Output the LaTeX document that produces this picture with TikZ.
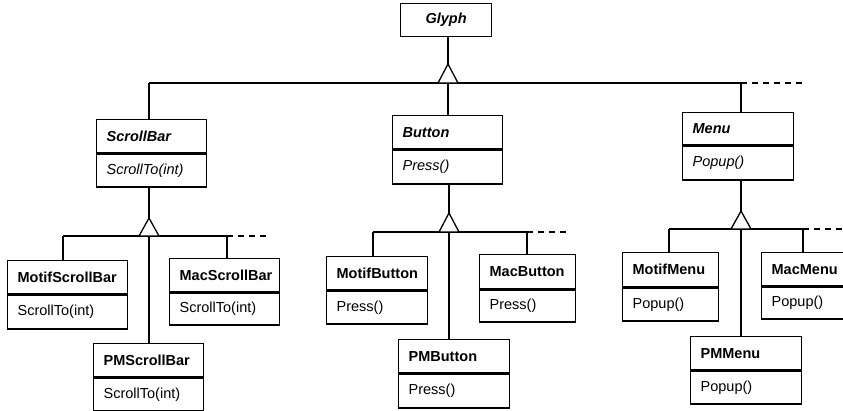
\documentclass[tikz,border=0pt]{standalone}
\usepackage{fontspec}
\setmainfont{Liberation Sans}
\begin{document}
\begin{tikzpicture}[x=1pt,y=-1pt,
  cls/.style={draw, line width=1.3pt, anchor=north west, inner xsep=10pt, inner ysep=0pt,
    align=left, font=\fontsize{14.5}{16}\selectfont},
  conn/.style={line width=1.3pt},
  dconn/.style={line width=1.3pt, dash pattern=on 6pt off 5pt},
  tri/.style={line width=1.3pt, fill=white, line join=miter}]
\clip (0,0) rectangle (843,411);
% abstract root
\node[cls, minimum width=91pt, minimum height=33pt, align=center, inner xsep=0pt] (glyph) at (400,3) {\bfseries\itshape Glyph};
% abstract classes
\node[cls, text width=90pt, minimum height=33pt] (sb) at (96,119) {\bfseries\itshape ScrollBar};
\node[cls, text width=90pt, minimum height=33pt] (sbm) at (sb.south west) {\itshape ScrollTo(int)};
\node[cls, text width=90pt, minimum height=33pt] (bt) at (392,115) {\bfseries\itshape Button};
\node[cls, text width=90pt, minimum height=34pt] (btm) at (bt.south west) {\itshape Press()};
\node[cls, text width=91pt, minimum height=32pt] (mn) at (682,112) {\bfseries\itshape Menu};
\node[cls, text width=91pt, minimum height=34pt] (mnm) at (mn.south west) {\itshape Popup()};
% scrollbar subclasses
\node[cls, text width=100pt, minimum height=33pt] (msb) at (7,260) {\bfseries MotifScrollBar};
\node[cls, text width=100pt, minimum height=34pt] (msbm) at (msb.south west) {ScrollTo(int)};
\node[cls, text width=90pt, minimum height=33pt] (xsb) at (169,258) {\bfseries MacScrollBar};
\node[cls, text width=90pt, minimum height=32pt] (xsbm) at (xsb.south west) {ScrollTo(int)};
\node[cls, text width=90pt, minimum height=33pt] (psb) at (93,343) {\bfseries PMScrollBar};
\node[cls, text width=90pt, minimum height=33pt] (psbm) at (psb.south west) {ScrollTo(int)};
% button subclasses
\node[cls, text width=81pt, minimum height=33pt] (mbt) at (326,256) {\bfseries MotifButton};
\node[cls, text width=81pt, minimum height=33pt] (mbtm) at (mbt.south west) {Press()};
\node[cls, text width=76pt, minimum height=34pt] (xbt) at (479,254) {\bfseries MacButton};
\node[cls, text width=76pt, minimum height=32pt] (xbtm) at (xbt.south west) {Press()};
\node[cls, text width=91pt, minimum height=33pt] (pbt) at (398,339) {\bfseries PMButton};
\node[cls, text width=91pt, minimum height=34pt] (pbtm) at (pbt.south west) {Press()};
% menu subclasses
\node[cls, text width=76pt, minimum height=34pt] (mmn) at (622,252) {\bfseries MotifMenu};
\node[cls, text width=76pt, minimum height=33pt] (mmnm) at (mmn.south west) {Popup()};
\node[cls, text width=76pt, minimum height=33pt] (xmn) at (761,252) {\bfseries MacMenu};
\node[cls, text width=76pt, minimum height=32pt] (xmnm) at (xmn.south west) {Popup()};
\node[cls, text width=91pt, minimum height=33pt] (pmn) at (690,336) {\bfseries PMMenu};
\node[cls, text width=91pt, minimum height=33pt] (pmnm) at (pmn.south west) {Popup()};
% top hierarchy
\coordinate (gT) at (448,64);
\coordinate (gL) at (149,83);
\coordinate (gB) at (448,83);
\coordinate (gR) at (741,83);
\coordinate (gD) at (803,83);
\draw[conn] (gT |- glyph.south) -- (gT);
\draw[conn] (gL) -- (gR);
\draw[dconn] (gR) -- (gD);
\draw[conn] (gL) -- (sb.north -| gL);
\draw[conn] (gB) -- (bt.north -| gB);
\draw[conn] (gR) -- (mn.north -| gR);
\draw[tri] (gT) -- ++(-10,19) -- ++(20,0) -- cycle;
% scrollbar hierarchy
\coordinate (sT) at (149,218);
\coordinate (sL) at (63,236);
\coordinate (sM) at (149,236);
\coordinate (sR) at (227,236);
\coordinate (sD) at (269,236);
\draw[conn] (sT |- sbm.south) -- (sT);
\draw[conn] (sL) -- (sR);
\draw[dconn] (sR) -- (sD);
\draw[conn] (sL) -- (msb.north -| sL);
\draw[conn] (sM) -- (psb.north -| sM);
\draw[conn] (sR) -- (xsb.north -| sR);
\draw[tri] (sT) -- ++(-10,18) -- ++(20,0) -- cycle;
% button hierarchy
\coordinate (bT) at (449,213);
\coordinate (bL) at (373,232);
\coordinate (bM) at (449,232);
\coordinate (bR) at (527,232);
\coordinate (bD) at (570,232);
\draw[conn] (bT |- btm.south) -- (bT);
\draw[conn] (bL) -- (bR);
\draw[dconn] (bR) -- (bD);
\draw[conn] (bL) -- (mbt.north -| bL);
\draw[conn] (bM) -- (pbt.north -| bM);
\draw[conn] (bR) -- (xbt.north -| bR);
\draw[tri] (bT) -- ++(-10,19) -- ++(20,0) -- cycle;
% menu hierarchy
\coordinate (mT) at (741,211);
\coordinate (mL) at (669,229);
\coordinate (mM) at (741,229);
\coordinate (mR) at (803,229);
\coordinate (mD) at (846,229);
\draw[conn] (mT |- mnm.south) -- (mT);
\draw[conn] (mL) -- (mR);
\draw[dconn] (mR) -- (mD);
\draw[conn] (mL) -- (mmn.north -| mL);
\draw[conn] (mM) -- (pmn.north -| mM);
\draw[conn] (mR) -- (xmn.north -| mR);
\draw[tri] (mT) -- ++(-10,18) -- ++(20,0) -- cycle;
\end{tikzpicture}
\end{document}
